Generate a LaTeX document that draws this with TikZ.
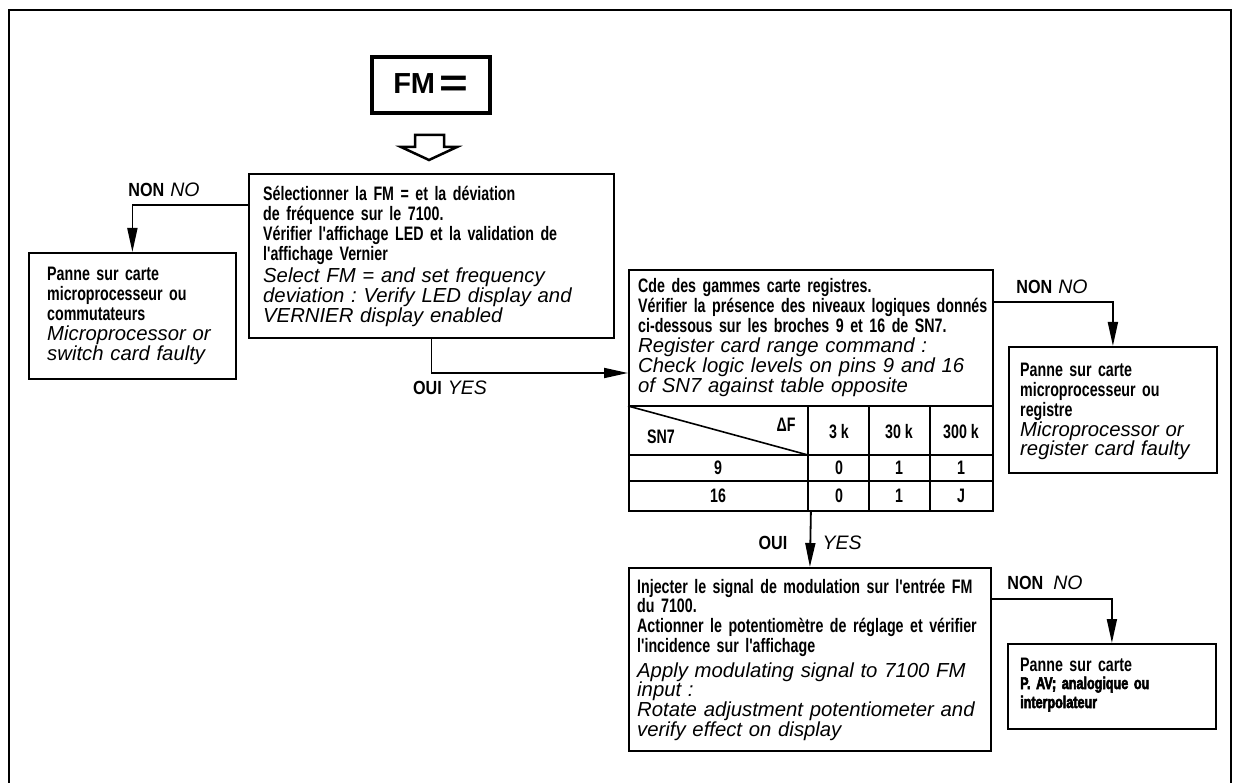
\documentclass[tikz,border=0pt]{standalone}
\usepackage{fontspec}
\setmainfont{Liberation Sans}
\newfontfamily\FrFont{Liberation Sans}[FakeStretch=0.73]
\newfontfamily\LbFont{Liberation Sans}[FakeStretch=0.85]
\newfontfamily\EnFont{Liberation Sans}
\newfontfamily\BkFont{Liberation Sans}[FakeStretch=0.74,FakeBold=3]
\usetikzlibrary{arrows.meta,calc}
\newcommand\FrTxt{\FrFont\bfseries\fontsize{19.5}{19.7}\selectfont}
\newcommand\EnTxt{\EnFont\itshape\fontsize{20.3}{19.8}\selectfont}
\newcommand\BkTxt{\BkFont\bfseries\fontsize{17}{19}\selectfont}
\newcommand\FmTxt{\EnFont\bfseries\fontsize{29}{32}\selectfont}
\newcommand\FrLbl{\LbFont\bfseries\fontsize{19}{20}\selectfont}
\newcommand\EnLbl{\EnFont\itshape\fontsize{19.5}{20}\selectfont}
\frenchspacing
\begin{document}
\begin{tikzpicture}[x=1pt,y=-1pt,
  flowbox/.style={draw, line width=1.8pt, inner sep=0pt, anchor=north west},
  fmbox/.style={draw, line width=3.5pt, inner sep=0pt, font=\FmTxt},
  frtxt/.style={anchor=base west, inner sep=0pt, text width=400pt, align=left, font=\FrTxt},
  entxt/.style={anchor=base west, inner sep=0pt, text width=400pt, align=left, font=\EnTxt},
  bktxt/.style={anchor=base west, inner sep=0pt, text width=400pt, align=left, font=\BkTxt},
  arr/.style={line width=1.8pt, -{Triangle[length=24pt,width=10pt]}},
  lbl/.style={inner sep=0pt, anchor=center},
  tcell/.style={inner sep=0pt, anchor=center, font=\FrTxt},
  tablegrid/.style={line width=1.6pt},
  outerframe/.style={line width=2.8pt}]
\useasboundingbox (0,0) rectangle (1234,783);
\fill[white] (0,0) rectangle (1234,783);
% outer frame
\draw[outerframe] (9,783) -- (9,10) -- (1231,10) -- (1231,783);
% start box
\node[fmbox, minimum width=118pt, minimum height=56pt] (fm) at (431,85) {FM\,\raisebox{-3pt}{\scalebox{1.7}[1.35]{=}}};
% hollow arrow
\draw[line width=2.5pt, line join=miter] (415,135) -- (444,135) -- (444,147) -- (457,147) -- (429,160) -- (401,147) -- (415,147) -- cycle;
% boxes
\node[flowbox, minimum width=365pt, minimum height=164pt] (b1) at (248,173) {};
\node[flowbox, minimum width=207pt, minimum height=126pt] (b2) at (28,252) {};
\node[flowbox, minimum width=364pt, minimum height=241pt] (b3) at (628,269) {};
\node[flowbox, minimum width=208pt, minimum height=126pt] (b4) at (1008,346) {};
\node[flowbox, minimum width=362pt, minimum height=183pt] (b5) at (628,567) {};
\node[flowbox, minimum width=208pt, minimum height=85pt] (b6) at (1007,643) {};
% texts box 1
\node[frtxt] (t1f) at (263,201) {Sélectionner la FM = et la déviation\\de fréquence sur le 7100.\\Vérifier l'affichage LED et la validation de\\l'affichage Vernier};
\node[entxt] (t1e) at (263,283) {Select FM = and set frequency\\deviation : Verify LED display and\\VERNIER display enabled};
% box 2
\node[frtxt] (t2f) at (47,281) {Panne sur carte\\microprocesseur ou\\commutateurs};
\node[entxt] (t2e) at (47,341) {Microprocessor or\\switch card faulty};
% box 3
\node[frtxt] (t3f) at (638,293) {Cde des gammes carte registres.\\Vérifier la présence des niveaux logiques donnés\\ci-dessous sur les broches 9 et 16 de SN7.};
\node[entxt] (t3e) at (638,353) {Register card range command :\\Check logic levels on pins 9 and 16\\of SN7 against table opposite};
% table in box 3
\draw[tablegrid] (628,406) -- (992,406);
\draw[tablegrid] (628,455) -- (992,455);
\draw[tablegrid] (628,481) -- (992,481);
\draw[tablegrid] (808,406) -- (808,510);
\draw[tablegrid] (869,406) -- (869,510);
\draw[tablegrid] (930,406) -- (930,510);
\draw[tablegrid] (628,406) -- (808,455);
\node[tcell] (sn) at (661,437) {SN7};
\node[tcell] (df) at (786,425) {ΔF};
\node[tcell] (h1) at (839,432) {3 k};
\node[tcell] (h2) at (899,432) {30 k};
\node[tcell] (h3) at (961,432) {300 k};
\node[tcell] (r1) at (718,468) {9};
\node[tcell] (r2) at (718,496) {16};
\node[tcell] (v11) at (839,468) {0};
\node[tcell] (v12) at (899,468) {1};
\node[tcell] (v13) at (961,468) {1};
\node[tcell] (v21) at (839,496) {0};
\node[tcell] (v22) at (899,496) {1};
\node[tcell] (v23) at (961,496) {J};
% box 4
\node[frtxt] (t4f) at (1020,377) {Panne sur carte\\microprocesseur ou\\registre};
\node[entxt] (t4e) at (1020,436) {Microprocessor or\\register card faulty};
% box 5
\node[frtxt] (t5f) at (637,593) {Injecter le signal de modulation sur l'entrée FM\\du 7100.\\Actionner le potentiomètre de réglage et vérifier\\l'incidence sur l'affichage};
\node[entxt] (t5e) at (637,677) {Apply modulating signal to 7100 FM\\input :\\Rotate adjustment potentiometer and\\verify effect on display};
% box 6
\node[frtxt] (t6f) at (1020,671) {Panne sur carte};
\node[bktxt] (t6b) at (1020,689) {P. AV; analogique ou\\interpolateur};
% connectors
\draw[arr] ($(b1.north west)+(0,32)$) -| (b2.north);
\draw[arr] (b1.south) |- ($(b3.north west)+(0,104)$);
\draw[arr] ($(b3.north east)+(0,33)$) -| (b4.north);
\draw[arr] (b3.south) -- (b5.north);
\draw[arr] ($(b5.north east)+(0,32)$) -| (b6.north);
% labels
\node[lbl] (l1) at (164,190) {{\FrLbl NON}\hspace{6pt}{\EnLbl NO}};
\node[lbl] (l2) at (450,388) {{\FrLbl OUI}\hspace{6pt}{\EnLbl YES}};
\node[lbl] (l3) at (1052,287) {{\FrLbl NON}\hspace{6pt}{\EnLbl NO}};
\node[lbl] (l4) at (773,543) {\FrLbl OUI};
\node[lbl] (l5) at (842,543) {\EnLbl YES};
\node[lbl] (l6) at (1045,583) {{\FrLbl NON}\hspace{10pt}{\EnLbl NO}};
\end{tikzpicture}
\end{document}
